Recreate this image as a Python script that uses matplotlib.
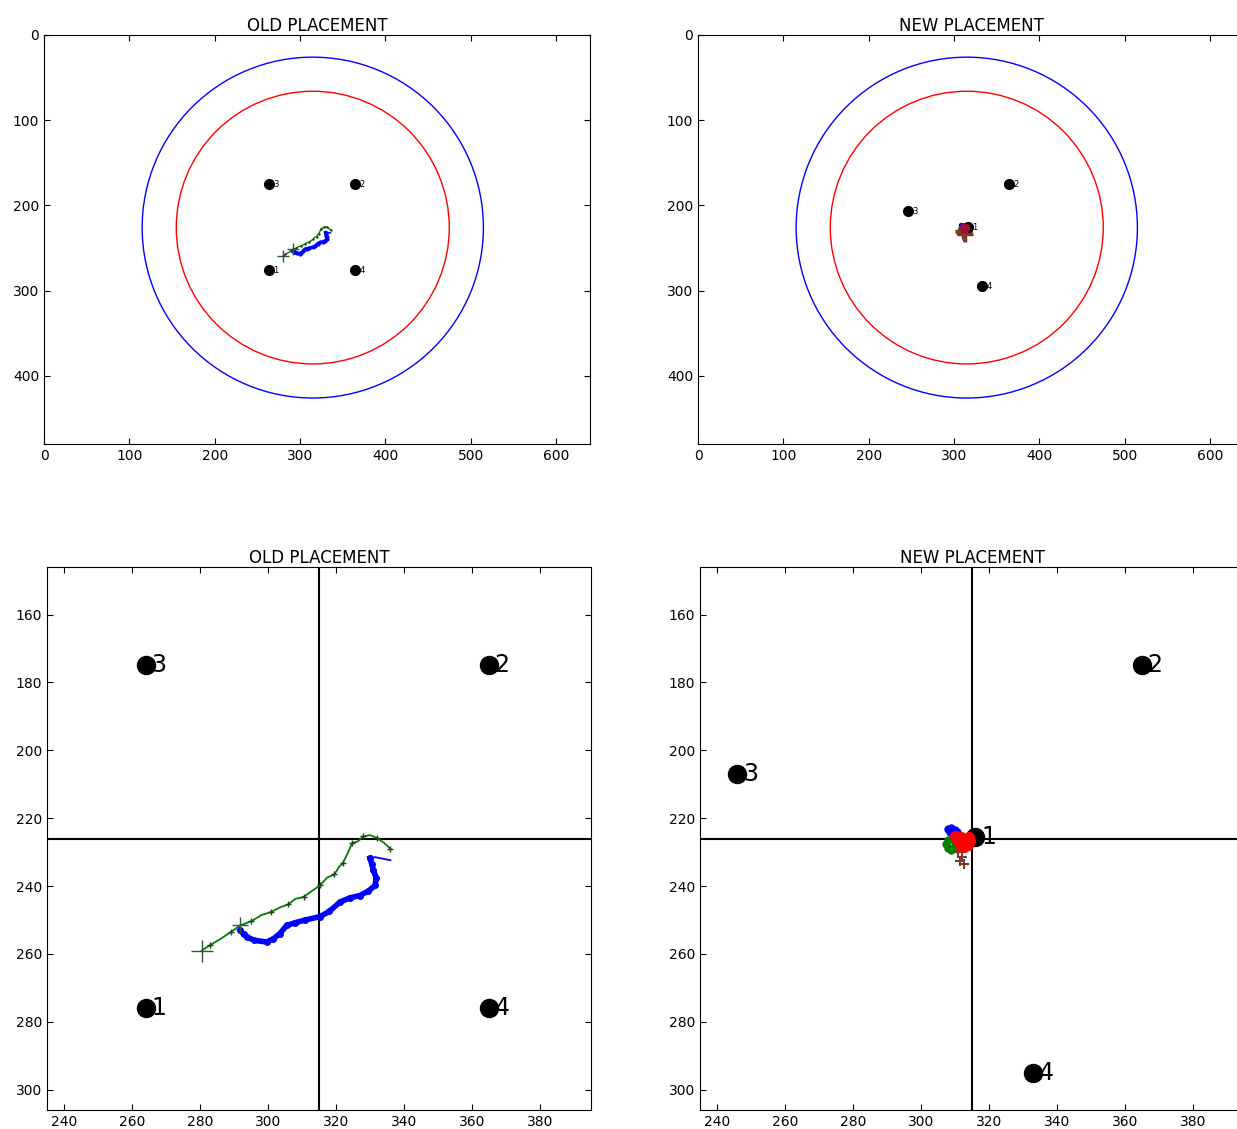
import numpy as np
import matplotlib.pyplot as plt
import matplotlib.patches as mpatches

# reference points (x, y) for each layout
old_ids = ['1', '2', '3', '4']
old_x = [264, 365, 264, 365]
old_y = [276, 175, 175, 276]
new_ids = ['1', '2', '3', '4']
new_x = [316, 365, 246, 333]
new_y = [225.5, 175, 207, 295]

center = (315, 226)
radius_outer = 200
radius_inner = 160

# tracked paths, old placement
green_old_x = [280.5, 283, 286, 289, 291.8, 295, 298, 301, 303.5, 306, 308, 310.5, 313, 315.3,
               317.4, 319.5, 321, 322, 323.5, 324.7, 326.5, 328, 330, 332, 334, 336]
green_old_y = [259, 257.4, 255.6, 253.6, 251.6, 250.4, 248.6, 247.6, 246.3, 245.4, 243.8, 243.2,
               241.4, 239.8, 237.5, 236.6, 234.2, 233.3, 230.2, 227.4, 226.8, 225.4, 225, 225.8, 227.2, 229]
blue_old_x = [291.8, 292.8, 293.7, 296, 299.6, 301.5, 303.5, 305.5, 308, 311, 315.3, 318, 321.2,
              324, 327, 329.5, 331.5, 331.8, 331, 330.5, 330, 331.5, 333, 336]
blue_old_y = [253, 254.2, 255, 256, 256.5, 255.6, 254, 251.6, 250.8, 250, 249, 247.5, 244.7,
              243.5, 242.8, 241.5, 239.8, 237.5, 235.4, 233.5, 231.8, 231.5, 231.8, 232.4]

# tracked paths, new placement
blue_new_x = [309.5, 308.5, 307.8, 308.8, 310, 310.6, 310]
blue_new_y = [225, 224.2, 223.2, 222.8, 223.4, 224.2, 225]
green_new_x = [309.5, 308, 307.2, 307.8, 308.8, 309.6, 310]
green_new_y = [226, 226.4, 227.5, 228.8, 229.5, 228.4, 227]
red_new_x = [310, 311.5, 312.5, 313.8, 314.5, 314, 312.8, 311.8, 310.5, 311.5]
red_new_y = [225.2, 227.4, 228.6, 228, 226.8, 225.6, 226, 225.5, 226.5, 228]
brown_new_x = [311, 312, 312.5, 311.5]
brown_new_y = [230, 231.5, 233.5, 232.5]


def style(ax):
    ax.tick_params(direction='in', top=True, right=True, labelsize=10, length=4)
    for s in ax.spines.values():
        s.set_color('black')


def draw_layout(ax, ids, xs, ys, big):
    ms = 13 if big else 7
    fs = 17 if big else 6
    off = 4 if big else 3
    ax.plot(xs, ys, 'o', color='black', ms=ms, zorder=5)
    for i, x, y in zip(ids, xs, ys):
        ax.annotate(i, (x, y), xytext=(off, 0), textcoords='offset points',
                    va='center', ha='left', fontsize=fs, zorder=6)


def draw_old_tracks(ax, big):
    lw = 1.3 if big else 1
    ax.plot(blue_old_x, blue_old_y, '-', color='blue', lw=lw)
    ax.plot(blue_old_x[:-3], blue_old_y[:-3], '-', color='blue', lw=4 if big else 2.5)
    ax.plot(blue_old_x[:-3], blue_old_y[:-3], 'o', color='blue', ms=4 if big else 2, mec='blue')
    ax.plot(green_old_x, green_old_y, '-', color='green', lw=lw)
    ax.plot(green_old_x[1::2], green_old_y[1::2], '+', color='#1f3f1f', ms=5 if big else 2)
    ax.plot(green_old_x[:1], green_old_y[:1], '+', color='#335533', ms=16 if big else 9, mew=1)
    ax.plot(green_old_x[4:5], green_old_y[4:5], '+', color='#335533', ms=12 if big else 8, mew=1)


def draw_new_tracks(ax, big):
    ms = 5 if big else 2
    ax.plot(blue_new_x, blue_new_y, 'o-', color='blue', ms=ms, lw=3, zorder=3)
    ax.plot(green_new_x, green_new_y, 'o-', color='green', ms=ms, lw=3, zorder=3)
    ax.plot(brown_new_x, brown_new_y, '+', color='#7a3a2a', ms=7 if big else 12,
            mew=1.5 if big else 2.5, zorder=4)
    ax.plot(red_new_x, red_new_y, 'o-', color='red' if big else '#a01030',
            ms=ms + 2, lw=4 if big else 2, zorder=7)


fig = plt.figure(figsize=(12.37, 11.29), dpi=100)

ax1 = fig.add_axes([0.0356, 0.6067, 0.4414, 0.3623])
ax2 = fig.add_axes([0.5643, 0.6067, 0.4414, 0.3623])
ax3 = fig.add_axes([0.0380, 0.0168, 0.4398, 0.4810])
ax4 = fig.add_axes([0.5659, 0.0168, 0.4398, 0.4810])

# full view
for ax, title in [(ax1, 'OLD PLACEMENT'), (ax2, 'NEW PLACEMENT')]:
    ax.add_patch(mpatches.Circle(center, radius_outer, fill=False, color='blue', lw=1))
    ax.add_patch(mpatches.Circle(center, radius_inner, fill=False, color='red', lw=1))
    ax.set_xlim(0, 640)
    ax.set_ylim(480, 0)
    ax.set_xticks([0, 100, 200, 300, 400, 500, 600])
    ax.set_yticks([0, 100, 200, 300, 400])
    ax.set_title(title, fontsize=12, pad=3)
    style(ax)

draw_old_tracks(ax1, False)
draw_layout(ax1, old_ids, old_x, old_y, False)
draw_new_tracks(ax2, False)
draw_layout(ax2, new_ids, new_x, new_y, False)

# zoomed view
for ax, title in [(ax3, 'OLD PLACEMENT'), (ax4, 'NEW PLACEMENT')]:
    ax.axvline(center[0], color='black', lw=1.5)
    ax.axhline(center[1], color='black', lw=1.5)
    ax.set_xlim(235, 395)
    ax.set_ylim(306, 146)
    ax.set_xticks(np.arange(240, 381, 20))
    ax.set_yticks(np.arange(160, 301, 20))
    ax.set_title(title, fontsize=12, pad=3)
    style(ax)

draw_old_tracks(ax3, True)
draw_layout(ax3, old_ids, old_x, old_y, True)
draw_new_tracks(ax4, True)
draw_layout(ax4, new_ids, new_x, new_y, True)

plt.savefig('out.png', dpi=100)
